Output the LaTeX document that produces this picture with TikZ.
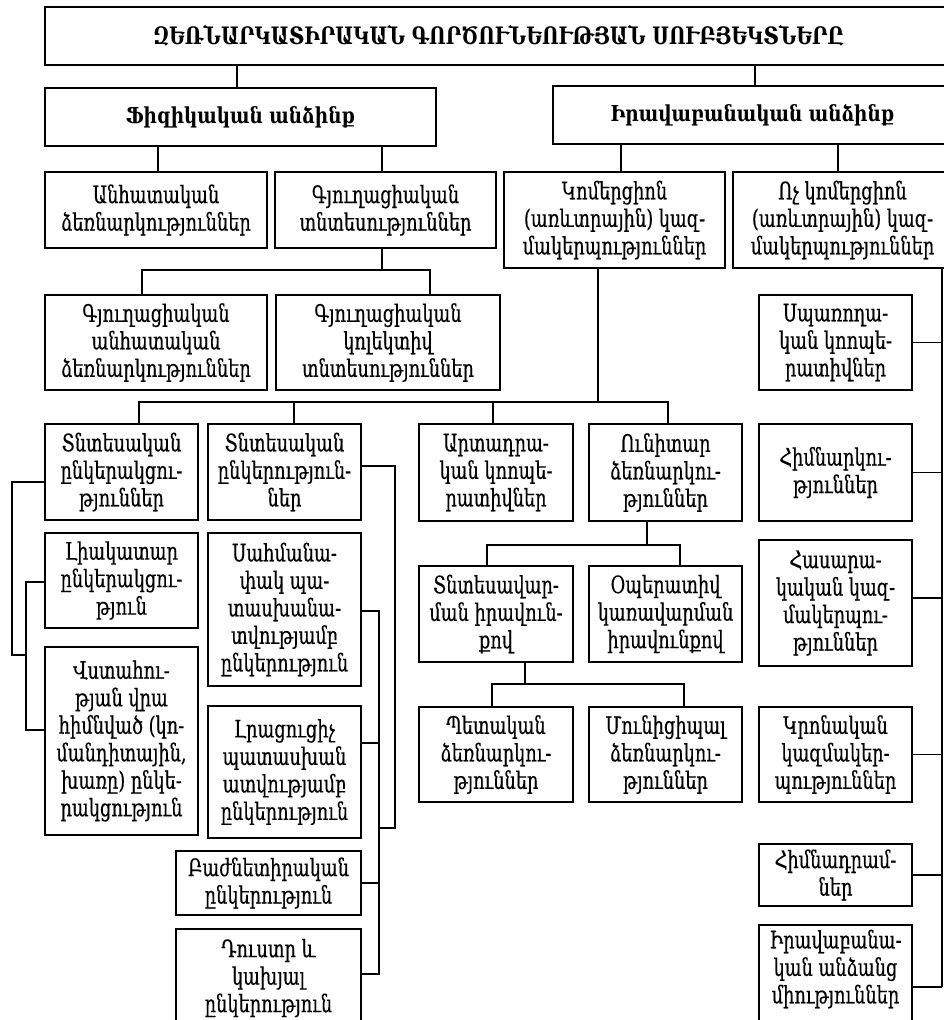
\documentclass[tikz,border=0pt]{standalone}
\usepackage{fontspec}
\setmainfont{DejaVu Serif}[FakeStretch=0.74,FakeBold=0.4]
\newfontfamily\titlefont[FakeStretch=0.8]{DejaVu Serif Bold}
\newfontfamily\headfont[FakeStretch=0.84]{DejaVu Serif Bold}
\newcommand\mybox[6]{\node[box,minimum width={#4-#2},minimum height={#5-#3}] (#1) at ({(#2+#4)/2},{(#3+#5)/2}) {#6};}
\begin{document}
\begin{tikzpicture}[x=1pt,y=-1pt,
  box/.style={draw,line width=1.6pt,inner sep=0pt,align=center,font=\fontsize{24}{27.5}\selectfont},
  txt/.style={inner sep=0pt,align=center,font=\fontsize{24}{27.5}\selectfont},
  ln/.style={line width=1.6pt}]
\useasboundingbox (0,0) rectangle (944,1020);
\fill[white] (0,0) rectangle (944,1020);
% boxes
\mybox{top}{45}{7}{952}{65}{\titlefont\fontsize{24}{26}\selectfont ԶԵՌՆԱՐԿԱՏԻՐԱԿԱՆ ԳՈՐԾՈՒՆԵՈՒԹՅԱՆ ՍՈՒԲՅԵԿՏՆԵՐԸ}
\mybox{phys}{45}{88}{436}{146}{\headfont\fontsize{22}{24}\selectfont Ֆիզիկական անձինք}
\mybox{legal}{553}{86}{952}{144}{\headfont\fontsize{22}{24}\selectfont Իրավաբանական անձինք}
\mybox{anhat}{45}{172}{267}{248}{Անհատական\\ձեռնարկություններ}
\mybox{gyugh}{275}{172}{496}{248}{Գյուղացիական\\տնտեսություններ}
\mybox{komer}{504}{172}{725}{268}{Կոմերցիոն\\(առևտրային) կազ-\\մակերպություններ}
\mybox{vochkom}{733}{172}{952}{268}{Ոչ կոմերցիոն\\(առևտրային) կազ-\\մակերպություններ}
\mybox{gyughanh}{45}{295}{267}{390}{Գյուղացիական\\անհատական\\ձեռնարկություններ}
\mybox{gyughkol}{276}{295}{500}{390}{Գյուղացիական\\կոլեկտիվ\\տնտեսություններ}
\mybox{spar}{759}{295}{912}{390}{Սպառողա-\\կան կոոպե-\\րատիվներ}
\mybox{tntenkerak}{45}{424}{198}{520}{Տնտեսական\\ընկերակցու-\\թյուններ}
\mybox{tntenker}{208}{424}{361}{520}{Տնտեսական\\ընկերություն-\\ներ}
\mybox{artadr}{419}{424}{573}{521}{Արտադրա-\\կան կոոպե-\\րատիվներ}
\mybox{unitar}{589}{424}{742}{521}{Ունիտար\\ձեռնարկու-\\թյուններ}
\mybox{himnark}{759}{424}{912}{521}{Հիմնարկու-\\թյուններ}
\mybox{liakat}{45}{533}{198}{628}{Լիակատար\\ընկերակցու-\\թյուն}
\mybox{sahm}{208}{533}{361}{686}{Սահմանա-\\փակ պա-\\տասխանա-\\տվությամբ\\ընկերություն}
\mybox{tntesavar}{419}{566}{573}{662}{Տնտեսավար-\\ման իրավուն-\\քով}
\mybox{operativ}{589}{566}{742}{662}{Օպերատիվ\\կառավարման\\իրավունքով}
\mybox{hasarak}{759}{540}{912}{666}{Հասարա-\\կական կազ-\\մակերպու-\\թյուններ}
\mybox{vstah}{45}{647}{198}{835}{Վստահու-\\թյան վրա\\հիմնված (կո-\\մանդիտային,\\խառը) ընկե-\\րակցություն}
\mybox{lrac}{208}{706}{361}{838}{Լրացուցիչ\\պատասխան\\ատվությամբ\\ընկերություն}
\mybox{petak}{419}{707}{573}{802}{Պետական\\ձեռնարկու-\\թյուններ}
\mybox{munic}{589}{707}{742}{802}{Մունիցիպալ\\ձեռնարկու-\\թյուններ}
\mybox{kron}{759}{707}{912}{802}{Կրոնական\\կազմակեր-\\պություններ}
\mybox{bazhn}{176}{851}{361}{915}{Բաժնետիրական\\ընկերություն}
\mybox{himnadr}{759}{844}{912}{906}{Հիմնադրամ-\\ներ}
\mybox{dustr}{176}{929}{361}{1030}{}
\node[txt] (dustrT) at (268.5,978) {Դուստր և\\կախյալ\\ընկերություն};
\mybox{iravmiut}{759}{925}{912}{1030}{}
\node[txt] (iravmiutT) at (835.5,969) {Իրավաբանա-\\կան անձանց\\միություններ};
% connectors
\coordinate (cP) at (237,0);
\coordinate (cL) at (755,0);
\coordinate (cA) at (158,0);
\coordinate (cG) at (382,0);
\coordinate (cK) at (621,0);
\coordinate (cV) at (838,0);
\draw[ln] (cP |- top.south) -- (cP |- phys.north);
\draw[ln] (cL |- top.south) -- (cL |- legal.north);
\draw[ln] (cA |- phys.south) -- (cA |- anhat.north);
\draw[ln] (cG |- phys.south) -- (cG |- gyugh.north);
\draw[ln] (cK |- legal.south) -- (cK |- komer.north);
\draw[ln] (cV |- legal.south) -- (cV |- vochkom.north);
% gyugh bus
\coordinate (bG) at (382,270);
\coordinate (bGl) at (142,270);
\coordinate (bGr) at (430,270);
\draw[ln] (bG |- gyugh.south) -- (bG);
\draw[ln] (bGl |- gyughanh.north) -- (bGl) -- (bGr) -- (bGr |- gyughkol.north);
% komer bus
\coordinate (bK) at (598,402);
\coordinate (bK1) at (139,402);
\coordinate (bK2) at (294,402);
\coordinate (bK3) at (493,402);
\coordinate (bK4) at (668,402);
\draw[ln] (bK |- komer.south) -- (bK);
\draw[ln] (bK1 |- tntenkerak.north) -- (bK1) -- (bK4) -- (bK4 |- unitar.north);
\draw[ln] (bK2) -- (bK2 |- tntenker.north);
\draw[ln] (bK3) -- (bK3 |- artadr.north);
% unitar bus
\coordinate (bU) at (647,545);
\coordinate (bU1) at (487,545);
\coordinate (bU2) at (680,545);
\draw[ln] (bU |- unitar.south) -- (bU);
\draw[ln] (bU1 |- tntesavar.north) -- (bU1) -- (bU2) -- (bU2 |- operativ.north);
% tntesavar bus
\coordinate (bT) at (525,684);
\coordinate (bT1) at (492,684);
\coordinate (bT2) at (684,684);
\draw[ln] (bT |- tntesavar.south) -- (bT);
\draw[ln] (bT1 |- petak.north) -- (bT1) -- (bT2) -- (bT2 |- munic.north);
% right spine
\coordinate (sR) at (942,0);
\coordinate (rI) at (942,987);
\draw[ln] (sR |- vochkom.south) -- (rI);
\draw[ln] (spar.east) -- (spar.east -| sR);
\draw[ln] (himnark.east) -- (himnark.east -| sR);
\draw[ln] ([yshift=5pt]hasarak.east) -- ([yshift=5pt]hasarak.east -| sR);
\draw[ln] (kron.east) -- (kron.east -| sR);
\draw[ln] (himnadr.east) -- (himnadr.east -| sR);
\draw[ln] (rI -| iravmiut.east) -- (rI);
% left bracket
\coordinate (lA) at (12,482);
\coordinate (lB) at (12,655);
\coordinate (lC) at (26,655);
\coordinate (lD) at (26,582);
\coordinate (lE) at (26,730);
\draw[ln] (lA -| tntenkerak.west) -- (lA) -- (lB) -- (lC);
\draw[ln] (lD -| liakat.west) -- (lD) -- (lE) -- (lE -| vstah.west);
% tntenker bracket
\coordinate (rA) at (395,466);
\coordinate (rB) at (395,828);
\coordinate (rC) at (379,828);
\coordinate (m1) at (379,611);
\coordinate (m2) at (379,743);
\coordinate (m3) at (379,883);
\coordinate (m4) at (379,974);
\draw[ln] (rA -| tntenker.east) -- (rA) -- (rB) -- (rC);
\draw[ln] (m1 -| sahm.east) -- (m1) -- (m4) -- (m4 -| dustr.east);
\draw[ln] (m2 -| lrac.east) -- (m2);
\draw[ln] (m3 -| bazhn.east) -- (m3);
\end{tikzpicture}
\end{document}
